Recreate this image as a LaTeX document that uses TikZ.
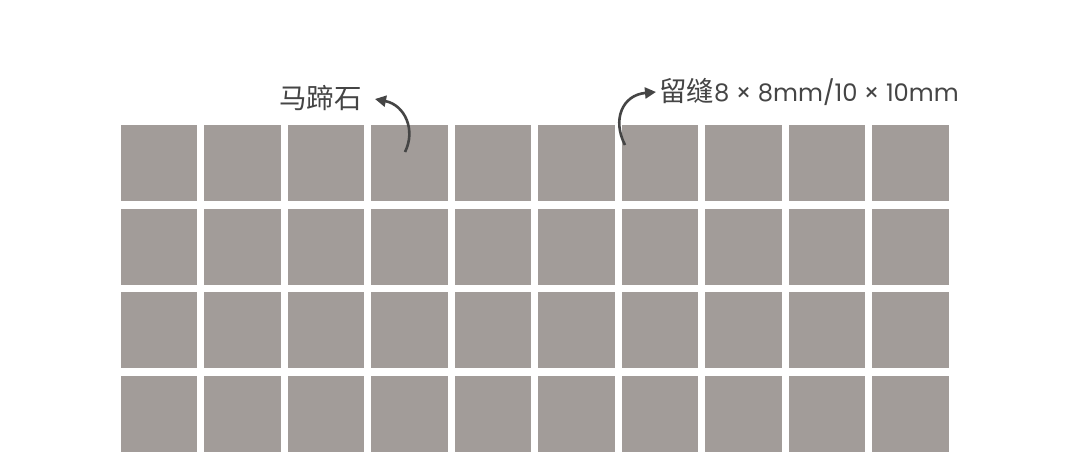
\documentclass[tikz,border=0pt]{standalone}
\usepackage{fontspec}
\newfontfamily\cjk{Noto Sans CJK SC}
\newfontfamily\latn{Poppins}
\usetikzlibrary{arrows.meta}
\definecolor{tilec}{HTML}{A29C99}
\definecolor{inkc}{HTML}{454545}
\tikzset{
  tile/.style={fill=tilec, draw=none},
  lbl/.style={text=inkc, font=\cjk\fontsize{27.5}{30}\selectfont, inner sep=0pt, anchor=west},
  callout/.style={draw=inkc, line width=2.6pt, -{Triangle[length=11pt,width=11pt]}},
}
\begin{document}
\begin{tikzpicture}[x=1pt,y=-1pt]
\useasboundingbox (0,0) rectangle (1080,475);
\fill[white] (0,0) rectangle (1080,475);
\foreach \i in {0,...,9}{
  \foreach \j in {0,...,3}{
    \fill[tile] ({120.7+83.5*\i},{125+83.5*\j}) rectangle ++(76.5,76);
  }
}
\node[lbl] (horse) at (279,98) {马蹄石};
\node[lbl] (gap) at (659,92) {留缝{\latn\fontsize{24.2}{30}\selectfont 8 × 8mm/10 × 10mm}};
\coordinate (t1) at (405,152);
\coordinate (h1) at (375,99);
\coordinate (t2) at (625,145);
\coordinate (h2) at (656,92);
\draw[callout] (t1) .. controls (416,130) and (405,105) .. (h1);
\draw[callout] (t2) .. controls (612,120) and (622,95) .. (h2);
\end{tikzpicture}
\end{document}
